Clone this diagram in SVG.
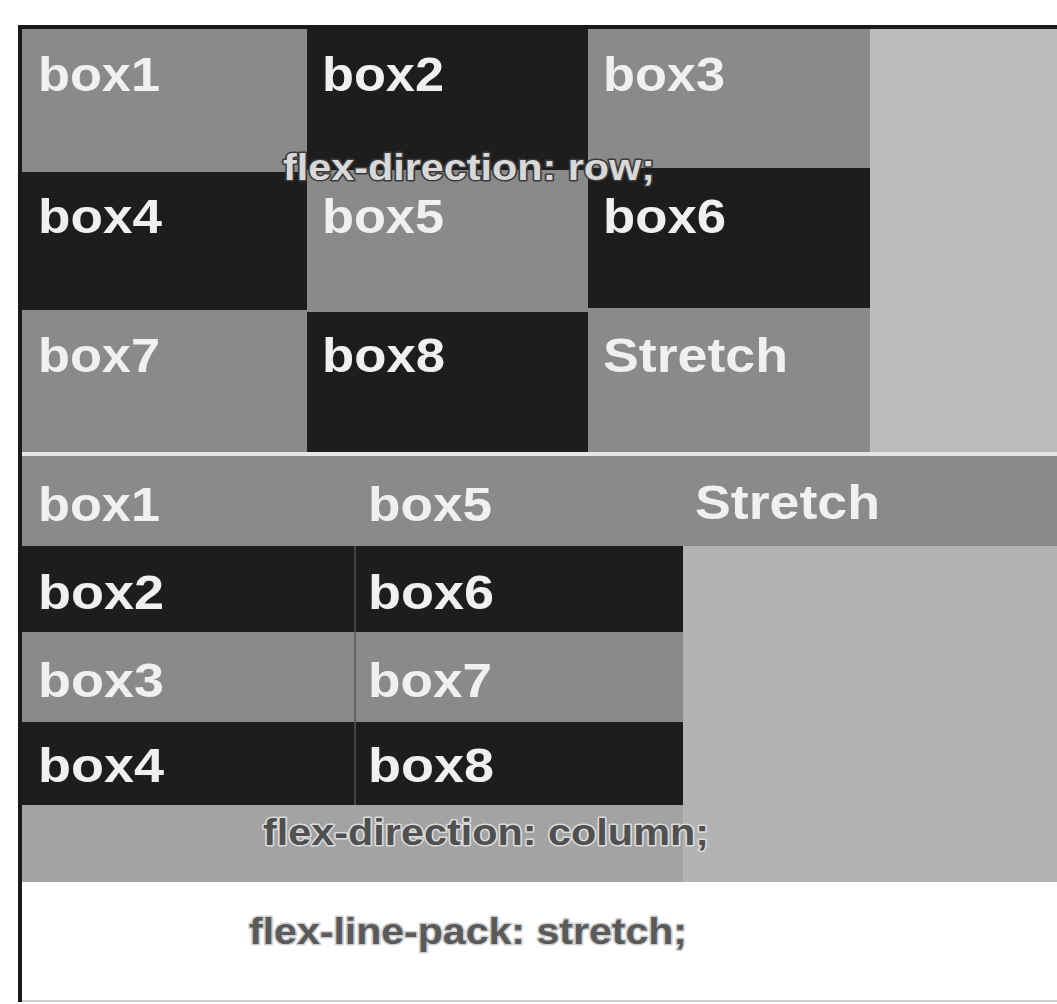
<svg xmlns="http://www.w3.org/2000/svg" width="1057" height="1004" viewBox="0 0 1057 1004">
<style>
.mid{fill:#8a8a8a}
.dark{fill:#1d1d1d}
.lbl{font-family:"Liberation Sans",Arial,sans-serif;font-weight:bold;font-size:48px;fill:#f0f0f0}
.note{font-family:"Liberation Sans",Arial,sans-serif;font-weight:bold;font-size:36px;paint-order:stroke;stroke-linejoin:round}
</style>
<rect x="0" y="0" width="1057" height="1004" fill="#ffffff"/>
<g id="frame">
<rect x="18" y="25" width="1039" height="4" fill="#1a1a1a"/>
<rect x="18" y="25" width="4" height="977" fill="#1a1a1a"/>
<rect x="22" y="1000" width="1035" height="2" fill="#d0d0d0"/>
</g>
<g id="row-container">
<rect x="22" y="29" width="1035" height="424" fill="#bcbcbc"/>
</g>
<g id="row-box1"><rect class="mid" x="22" y="29" width="285" height="143"/><text class="lbl" x="38" y="91" textLength="122" lengthAdjust="spacingAndGlyphs">box1</text></g>
<g id="row-box2"><rect class="dark" x="307" y="29" width="281" height="141"/><text class="lbl" x="322" y="91" textLength="122" lengthAdjust="spacingAndGlyphs">box2</text></g>
<g id="row-box3"><rect class="mid" x="588" y="29" width="282" height="141"/><text class="lbl" x="603" y="91" textLength="122" lengthAdjust="spacingAndGlyphs">box3</text></g>
<g id="row-box4"><rect class="dark" x="22" y="172" width="285" height="138"/><text class="lbl" x="38" y="233" textLength="124" lengthAdjust="spacingAndGlyphs">box4</text></g>
<g id="row-box5"><rect class="mid" x="307" y="170" width="281" height="142"/><text class="lbl" x="322" y="233" textLength="122" lengthAdjust="spacingAndGlyphs">box5</text></g>
<g id="row-box6"><rect class="dark" x="588" y="168" width="282" height="140"/><text class="lbl" x="603" y="233" textLength="123" lengthAdjust="spacingAndGlyphs">box6</text></g>
<g id="row-box7"><rect class="mid" x="22" y="310" width="285" height="142"/><text class="lbl" x="38" y="372" textLength="122" lengthAdjust="spacingAndGlyphs">box7</text></g>
<g id="row-box8"><rect class="dark" x="307" y="312" width="281" height="140"/><text class="lbl" x="322" y="372" textLength="123" lengthAdjust="spacingAndGlyphs">box8</text></g>
<g id="row-stretch"><rect class="mid" x="588" y="308" width="282" height="144"/><text class="lbl" x="603" y="372" textLength="185" lengthAdjust="spacingAndGlyphs">Stretch</text></g>
<g id="row-note"><text class="note" x="283" y="180" textLength="372" lengthAdjust="spacingAndGlyphs" fill="#d8d8d8" stroke="#3a3a3a" stroke-width="3">flex-direction: row;</text></g>
<rect x="22" y="452" width="1035" height="4" fill="#e6e6e6"/>
<g id="column-container">
<rect x="22" y="456" width="1035" height="426" fill="#b3b3b3"/>
<rect x="22" y="805" width="661" height="77" fill="#a3a3a3"/>
</g>
<g id="col-box1"><rect class="mid" x="22" y="456" width="333" height="90"/><text class="lbl" x="38" y="521" textLength="122" lengthAdjust="spacingAndGlyphs">box1</text></g>
<g id="col-box5"><rect class="mid" x="355" y="456" width="328" height="90"/><text class="lbl" x="368" y="521" textLength="124" lengthAdjust="spacingAndGlyphs">box5</text></g>
<g id="col-stretch"><rect class="mid" x="683" y="456" width="374" height="90"/><text class="lbl" x="695" y="519" textLength="185" lengthAdjust="spacingAndGlyphs">Stretch</text></g>
<g id="col-box2"><rect class="dark" x="22" y="546" width="333" height="86"/><text class="lbl" x="38" y="609" textLength="126" lengthAdjust="spacingAndGlyphs">box2</text></g>
<g id="col-box6"><rect class="dark" x="355" y="546" width="328" height="86"/><text class="lbl" x="368" y="609" textLength="126" lengthAdjust="spacingAndGlyphs">box6</text></g>
<g id="col-box3"><rect class="mid" x="22" y="632" width="333" height="90"/><text class="lbl" x="38" y="697" textLength="126" lengthAdjust="spacingAndGlyphs">box3</text></g>
<g id="col-box7"><rect class="mid" x="355" y="632" width="328" height="90"/><text class="lbl" x="368" y="697" textLength="124" lengthAdjust="spacingAndGlyphs">box7</text></g>
<g id="col-box4"><rect class="dark" x="22" y="722" width="333" height="83"/><text class="lbl" x="38" y="782" textLength="126" lengthAdjust="spacingAndGlyphs">box4</text></g>
<g id="col-box8"><rect class="dark" x="355" y="722" width="328" height="83"/><text class="lbl" x="368" y="782" textLength="126" lengthAdjust="spacingAndGlyphs">box8</text></g>
<line x1="355" y1="546" x2="355" y2="805" stroke="#555" stroke-width="1.5"/>
<g id="column-note"><text class="note" x="263" y="845" textLength="446" lengthAdjust="spacingAndGlyphs" fill="#505050" stroke="#dcdcdc" stroke-width="3">flex-direction: column;</text></g>
<g id="pack-note"><text class="note" x="249" y="944" textLength="438" lengthAdjust="spacingAndGlyphs" fill="#5a5a5a" stroke="#cfcfcf" stroke-width="3">flex-line-pack: stretch;</text></g>
</svg>
